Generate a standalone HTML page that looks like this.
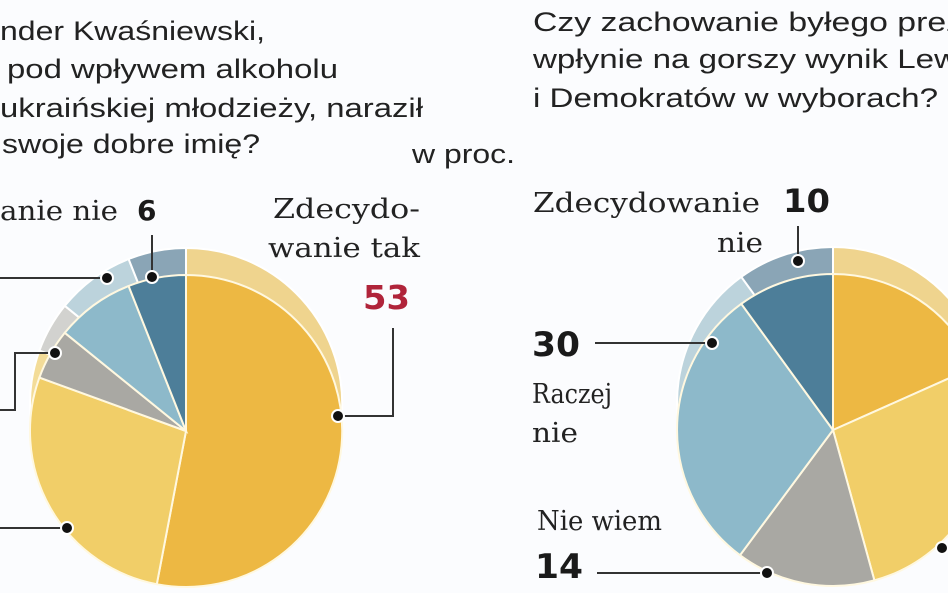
<!DOCTYPE html>
<html><head><meta charset="utf-8"><style>
html,body{margin:0;padding:0;background:#fbfcfe;}
svg{display:block}
.t{font-family:"Liberation Sans","DejaVu Sans",sans-serif;font-size:27px;fill:#222;}
.s{font-family:"DejaVu Serif","Liberation Serif",serif;font-size:27px;fill:#222;}
.b{font-family:"DejaVu Sans","Liberation Sans",sans-serif;font-weight:bold;fill:#1a1a1a;}
</style></head><body>
<svg id="c" width="948" height="593" viewBox="0 0 948 593" xmlns="http://www.w3.org/2000/svg">
<g id="pies"></g>
<g class="t">
<text x="0" y="40" textLength="265" lengthAdjust="spacingAndGlyphs">nder Kwaśniewski,</text>
<text x="7" y="78" textLength="331" lengthAdjust="spacingAndGlyphs">pod wpływem alkoholu</text>
<text x="0" y="117" textLength="423" lengthAdjust="spacingAndGlyphs">ukraińskiej młodzieży, naraził</text>
<text x="2" y="153" textLength="258" lengthAdjust="spacingAndGlyphs">swoje dobre imię?</text>
<text x="412" y="163" textLength="103" lengthAdjust="spacingAndGlyphs">w proc.</text>
<text x="533" y="31" textLength="430" lengthAdjust="spacingAndGlyphs">Czy zachowanie byłego prez</text>
<text x="533" y="68" textLength="425" lengthAdjust="spacingAndGlyphs">wpłynie na gorszy wynik Lew</text>
<text x="533" y="107" textLength="405" lengthAdjust="spacingAndGlyphs">i Demokratów w wyborach?</text>
</g>
<g class="s">
<text x="0" y="220" textLength="118" lengthAdjust="spacingAndGlyphs">anie nie</text>
<text x="273" y="218" textLength="147" lengthAdjust="spacingAndGlyphs">Zdecydo-</text>
<text x="268" y="257" textLength="152" lengthAdjust="spacingAndGlyphs">wanie tak</text>
<text x="533" y="212" textLength="227" lengthAdjust="spacingAndGlyphs">Zdecydowanie</text>
<text x="717" y="252" textLength="46" lengthAdjust="spacingAndGlyphs">nie</text>
<text x="532" y="403" textLength="80" lengthAdjust="spacingAndGlyphs">Raczej</text>
<text x="532" y="442" textLength="46" lengthAdjust="spacingAndGlyphs">nie</text>
<text x="537" y="530" textLength="125" lengthAdjust="spacingAndGlyphs">Nie wiem</text>
</g>
<g class="b">
<text x="137" y="220" font-size="28">6</text>
<text x="363" y="309" font-size="33" fill="#b0243a" style="fill:#b0243a" textLength="47" lengthAdjust="spacingAndGlyphs">53</text>
<text x="783" y="212" font-size="32" textLength="47" lengthAdjust="spacingAndGlyphs">10</text>
<text x="532" y="356" font-size="34" textLength="48" lengthAdjust="spacingAndGlyphs">30</text>
<text x="535" y="578" font-size="34" textLength="48" lengthAdjust="spacingAndGlyphs">14</text>
</g>
<g stroke="#333" stroke-width="2" fill="none">
<polyline points="152,235 152,277"/>
<polyline points="0,278 107,278"/>
<polyline points="55,353 15,353 15,410 0,410"/>
<polyline points="0,528 67,528"/>
<polyline points="338,416 393,416 393,328"/>
<polyline points="798,226 798,261"/>
<polyline points="595,343 712,343"/>
<polyline points="597,573 767,573"/>
</g>
<g fill="#111" stroke="#fff" stroke-width="2">
<circle cx="152" cy="277" r="6"/><circle cx="107" cy="278" r="6"/><circle cx="55" cy="353" r="6"/>
<circle cx="67" cy="528" r="6"/><circle cx="338" cy="416" r="6"/><circle cx="798" cy="261" r="6"/>
<circle cx="712" cy="343" r="6"/><circle cx="767" cy="573" r="6"/><circle cx="942" cy="548" r="6"/>
</g>
</svg>
<script>
function arc(cx,cy,r,a0,a1){var f=function(a){a=a*Math.PI/180;return [cx+r*Math.sin(a),cy-r*Math.cos(a)];};
var p0=f(a0),p1=f(a1),l=(a1-a0)>180?1:0;
return "M"+cx+","+cy+"L"+p0[0].toFixed(1)+","+p0[1].toFixed(1)+"A"+r+","+r+" 0 "+l+" 1 "+p1[0].toFixed(1)+","+p1[1].toFixed(1)+"Z";}
var front=["#edb843","#f1ce68","#a9a8a3","#8db9ca","#4d7e99"];
var back=["#efd48e","#f3dc98","#d2d2cf","#bcd3dc","#8aa5b6"];
function pie(cx,cy,r,angs){var s="";var d=27;
for(var i=0;i<5;i++)s+='<path d="'+arc(cx,cy-d,r,angs[i],angs[i+1])+'" fill="'+back[i]+'" stroke="#fff" stroke-width="2"/>';
for(var i=0;i<5;i++)s+='<path d="'+arc(cx,cy,r,angs[i],angs[i+1])+'" fill="'+front[i]+'" stroke="#fff8e0" stroke-width="2"/>';
return s;}
document.getElementById("pies").innerHTML=pie(186,431,156,[0,190.8,290,309,338.4,360])+pie(833,430,156,[0,66,164.6,216.6,324,360]);
</script>
</body></html>
